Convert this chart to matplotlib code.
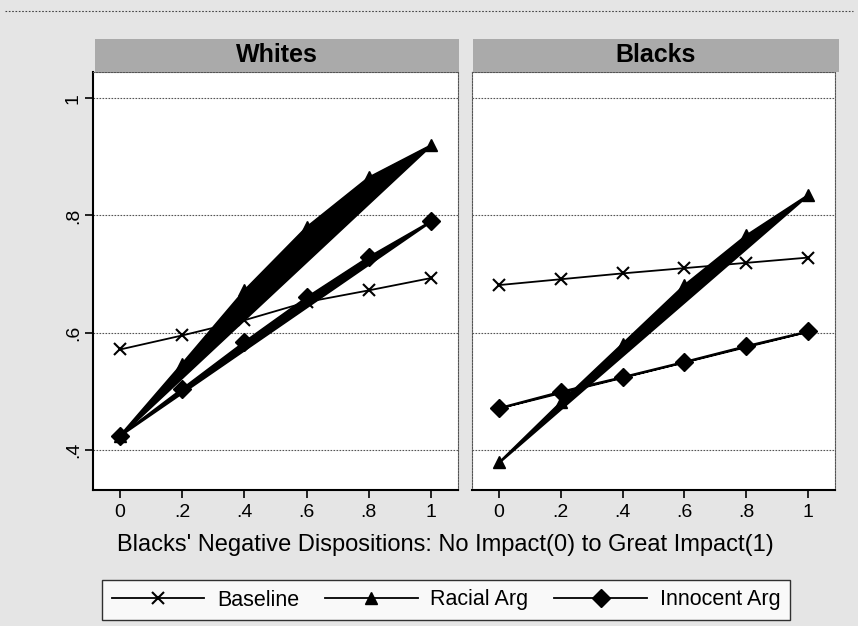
import numpy as np
import matplotlib.pyplot as plt
from matplotlib.lines import Line2D

plt.rcParams['font.family'] = ['Liberation Sans', 'DejaVu Sans']

x = [0, .2, .4, .6, .8, 1]
x_ticklabels = ["0", ".2", ".4", ".6", ".8", "1"]
y_ticks = [.4, .6, .8, 1]
y_ticklabels = [".4", ".6", ".8", "1"]

panel_titles = ["Whites", "Blacks"]
whites_baseline = [0.571, 0.595, 0.621, 0.652, 0.672, 0.693]
whites_racial = [0.424, 0.547, 0.672, 0.780, 0.865, 0.920]
whites_innocent = [0.424, 0.504, 0.584, 0.660, 0.729, 0.790]
blacks_baseline = [0.681, 0.691, 0.701, 0.710, 0.719, 0.728]
blacks_racial = [0.378, 0.481, 0.581, 0.681, 0.766, 0.835]
blacks_innocent = [0.471, 0.499, 0.524, 0.550, 0.577, 0.602]

series_labels = ["Baseline", "Racial Arg", "Innocent Arg"]
xlabel = "Blacks' Negative Dispositions: No Impact(0) to Great Impact(1)"

W, H = 858, 626
bg = '#e5e5e5'
strip_color = '#aaaaaa'


def fx(px):
    return px / W


def fy(py):
    return 1 - py / H


def filled_line(ax, xs, ys, marker):
    """ Line with the closed, filled shape seen in the scanned figure."""
    xs = np.asarray(xs)
    ys = np.asarray(ys)
    chord = np.interp(xs, [xs[0], xs[-1]], [ys[0], ys[-1]])
    ax.fill_between(xs, chord, ys, color='black', lw=1.2, zorder=3)
    ax.plot(xs, ys, color='black', lw=1.3, marker=marker, ms=9, zorder=4)


fig = plt.figure(figsize=(W / 100, H / 100), dpi=100, facecolor=bg)

# dotted outer frame line at the top
fig.add_artist(Line2D([fx(5), fx(853)], [fy(11), fy(11)], color='#444444',
                      lw=0.8, ls=(0, (1.5, 1.5))))

panels = [
    (93, 458, 95, 459, whites_baseline, whites_racial, whites_innocent, True),
    (472, 835, 473, 839, blacks_baseline, blacks_racial, blacks_innocent, False),
]

for i, (x0, x1, s0, s1, base, racial, innocent, first) in enumerate(panels):
    ax = fig.add_axes([fx(x0), fy(490), fx(x1 - x0), (490 - 72) / H])
    ax.set_facecolor('white')
    ax.set_xlim(-0.087, 1.087)
    ax.set_ylim(0.331, 1.045)

    for yv in y_ticks:
        ax.axhline(yv, color='#555555', lw=0.8, ls=(0, (1.5, 1.2)), zorder=1)

    ax.plot(x, base, color='black', lw=1.3, marker='x', ms=9, mew=1.5, zorder=5)
    filled_line(ax, x, racial, '^')
    filled_line(ax, x, innocent, 'D')

    ax.set_xticks(x)
    ax.set_xticklabels(x_ticklabels, fontsize=14)
    ax.tick_params(axis='x', direction='out', length=6, width=1.2, pad=4)

    for side in ['top', 'right']:
        ax.spines[side].set_linestyle((0, (1.5, 1.2)))
        ax.spines[side].set_linewidth(0.8)
        ax.spines[side].set_color('#555555')
    ax.spines['bottom'].set_linewidth(1.5)
    if first:
        ax.spines['left'].set_linewidth(1.5)
        ax.set_yticks(y_ticks)
        ax.set_yticklabels(y_ticklabels, fontsize=14, rotation=90, va='center')
        ax.tick_params(axis='y', direction='out', length=6, width=1.2, pad=2)
    else:
        ax.spines['left'].set_linestyle((0, (1.5, 1.2)))
        ax.spines['left'].set_linewidth(0.8)
        ax.spines['left'].set_color('#555555')
        ax.set_yticks([])

    # header strip
    sax = fig.add_axes([fx(s0), fy(72), fx(s1 - s0), (72 - 39) / H])
    sax.set_facecolor(strip_color)
    sax.set_xticks([])
    sax.set_yticks([])
    for sp in sax.spines.values():
        sp.set_visible(False)
    sax.text(0.5, 0.5, panel_titles[i], fontsize=18, fontweight='bold',
             ha='center', va='center', transform=sax.transAxes)

fig.text(fx(445), fy(545), xlabel, fontsize=17, ha='center', va='center')

handles = [
    Line2D([], [], color='black', lw=1.3, marker='x', ms=9, mew=1.5),
    Line2D([], [], color='black', lw=1.3, marker='^', ms=9),
    Line2D([], [], color='black', lw=1.3, marker='D', ms=9),
]
leg = fig.legend(handles, series_labels, loc='center', ncol=3,
                 bbox_to_anchor=(fx(446), fy(600)), fontsize=15.5,
                 handlelength=4.3, handletextpad=0.6, columnspacing=1.2,
                 borderpad=0.45, frameon=True, fancybox=False)
leg.get_frame().set_edgecolor('black')
leg.get_frame().set_linewidth(1.0)

fig.savefig("out.png", dpi=100, facecolor=bg)
